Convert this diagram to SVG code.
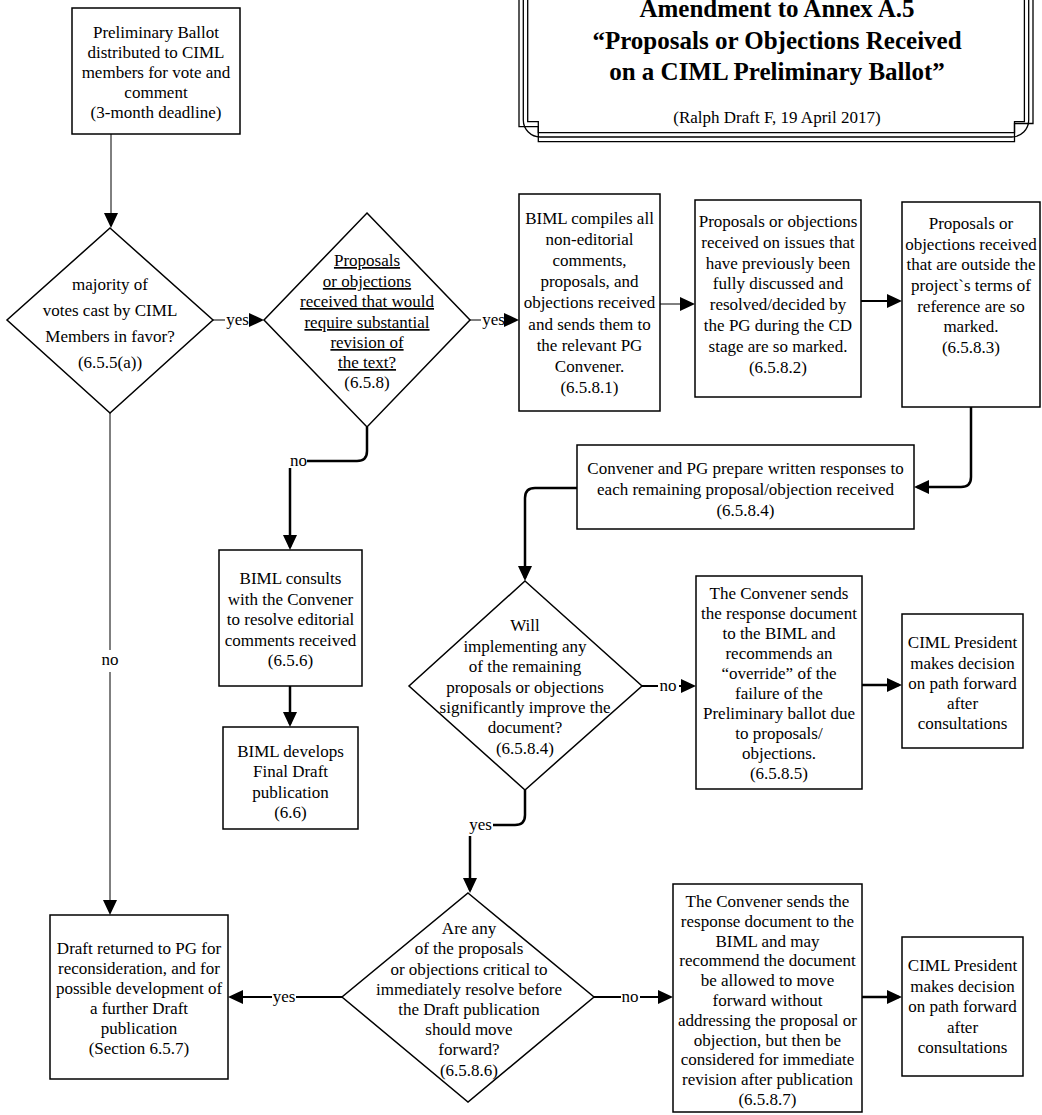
<svg xmlns="http://www.w3.org/2000/svg" width="1042" height="1115" viewBox="0 0 1042 1115">
<defs>
<style>
.box{fill:#fff;stroke:#000;stroke-width:1.5}
.t{font-family:"Liberation Serif","Times New Roman",serif;font-size:17px;text-anchor:middle;fill:#000}
.u{text-decoration:underline}
.title{font-family:"Liberation Serif","Times New Roman",serif;font-size:25px;font-weight:bold;text-anchor:middle;fill:#000}
.frame{fill:none;stroke:#000;stroke-width:1.3}
.thin{fill:none;stroke:#000;stroke-width:1}
.med{fill:none;stroke:#000;stroke-width:2}
.thick{fill:none;stroke:#000;stroke-width:2.5}
</style>
<marker id="ah" markerUnits="userSpaceOnUse" viewBox="0 0 15 14" markerWidth="15" markerHeight="14" refX="12" refY="7" orient="auto">
<path d="M0,0 L15,7 L0,14 z" fill="#000"/>
</marker>
</defs>
<rect width="1042" height="1115" fill="#fff"/>

<g id="title">
<path class="frame" d="M519,-2 V126.7 H538.3 V141.7 H1014.5 V123.5 H1033 V-2"/>
<path class="frame" d="M523.3,-2 V120 A17,17 0 0 0 540.3,137 H1011.7 A17,17 0 0 0 1028.7,120 V-2"/>
<path class="frame" d="M527.7,-2 V121.7 H538.3 V132.7 H1014.5 V121.7 H1024.4 V-2"/>
<text class="title" x="777" y="17">Amendment to Annex A.5</text>
<text class="title" x="777" y="48.5">“Proposals or Objections Received</text>
<text class="title" x="777" y="80">on a CIML Preliminary Ballot”</text>
<text class="t" x="777" y="123">(Ralph Draft F, 19 April 2017)</text>
</g>

<g id="connectors">
<path class="thin" d="M111,134 V225" marker-end="url(#ah)"/>
<path class="thin" d="M213,320 H225"/>
<text class="t" x="237.5" y="325">yes</text>
<path class="thin" d="M249,320 H261" marker-end="url(#ah)"/>
<path class="thin" d="M470,320 H481"/>
<text class="t" x="493.5" y="325">yes</text>
<path class="thin" d="M505,320 H516" marker-end="url(#ah)"/>
<path class="thick" d="M367,427 V451 Q367,461 357,461 H307"/>
<text class="t" x="298.5" y="466">no</text>
<path class="thick" d="M290,468 V547" marker-end="url(#ah)"/>
<path class="thick" d="M290,686 V724" marker-end="url(#ah)"/>
<path class="thin" d="M110,413 V650"/>
<text class="t" x="110" y="665">no</text>
<path class="thin" d="M110,672 V912" marker-end="url(#ah)"/>
<path class="thin" d="M660,304 H692" marker-end="url(#ah)"/>
<path class="med" d="M861,301 H899" marker-end="url(#ah)"/>
<path class="thick" d="M971,407 V477 Q971,487 961,487 H917" marker-end="url(#ah)"/>
<path class="thick" d="M577,488 H535 Q525,488 525,498 V578" marker-end="url(#ah)"/>
<path class="med" d="M642,686 H658"/>
<text class="t" x="668" y="691">no</text>
<path class="med" d="M679,686 H693" marker-end="url(#ah)"/>
<path class="thick" d="M862,685 H899" marker-end="url(#ah)"/>
<path class="thick" d="M525,790 V815 Q525,825 515,825 H493"/>
<text class="t" x="480.5" y="830">yes</text>
<path class="thick" d="M470,836 V890" marker-end="url(#ah)"/>
<path class="med" d="M342,997 H296"/>
<text class="t" x="284" y="1002">yes</text>
<path class="med" d="M272,997 H231" marker-end="url(#ah)"/>
<path class="med" d="M594,997 H621"/>
<text class="t" x="630" y="1002">no</text>
<path class="med" d="M640,997 H670" marker-end="url(#ah)"/>
<path class="thick" d="M862,997 H899" marker-end="url(#ah)"/>
</g>

<g id="n-ballot">
<rect class="box" x="72" y="8" width="168" height="126"/>
<text class="t"><tspan x="156" y="37.5">Preliminary Ballot</tspan><tspan x="156" y="57.5">distributed to CIML</tspan><tspan x="156" y="77.5">members for vote and</tspan><tspan x="156" y="97.5">comment</tspan><tspan x="156" y="117.5">(3-month deadline)</tspan></text>
</g>

<g id="d-majority">
<polygon class="box" points="110,228 213,320 110,413 7,320"/>
<text class="t"><tspan x="110" y="290">majority of</tspan><tspan x="110" y="316">votes cast by CIML</tspan><tspan x="110" y="342">Members in favor?</tspan><tspan x="110" y="368">(6.5.5(a))</tspan></text>
</g>

<g id="d-substantial">
<polygon class="box" points="367,213 470,320 367,427 264,320"/>
<text class="t"><tspan class="u" x="367" y="266">Proposals</tspan><tspan class="u" x="367" y="287">or objections</tspan><tspan class="u" x="367" y="307">received that would</tspan><tspan class="u" x="367" y="328">require substantial</tspan><tspan class="u" x="367" y="348">revision of</tspan><tspan class="u" x="367" y="368">the text?</tspan><tspan x="367" y="388">(6.5.8)</tspan></text>
</g>

<g id="n-compiles">
<rect class="box" x="519" y="194" width="141" height="217"/>
<text class="t"><tspan x="589.5" y="224">BIML compiles all</tspan><tspan x="589.5" y="245">non-editorial</tspan><tspan x="589.5" y="266">comments,</tspan><tspan x="589.5" y="287">proposals, and</tspan><tspan x="589.5" y="308">objections received</tspan><tspan x="589.5" y="330">and sends them to</tspan><tspan x="589.5" y="351">the relevant PG</tspan><tspan x="589.5" y="372">Convener.</tspan><tspan x="589.5" y="393">(6.5.8.1)</tspan></text>
</g>

<g id="n-6582">
<rect class="box" x="695" y="200" width="166" height="197"/>
<text class="t"><tspan x="778" y="227">Proposals or objections</tspan><tspan x="778" y="248">received on issues that</tspan><tspan x="778" y="269">have previously been</tspan><tspan x="778" y="289">fully discussed and</tspan><tspan x="778" y="310">resolved/decided by</tspan><tspan x="778" y="331">the PG during the CD</tspan><tspan x="778" y="352">stage are so marked.</tspan><tspan x="778" y="373">(6.5.8.2)</tspan></text>
</g>

<g id="n-6583">
<rect class="box" x="902" y="202" width="138" height="205"/>
<text class="t"><tspan x="971" y="229">Proposals or</tspan><tspan x="971" y="250">objections received</tspan><tspan x="971" y="270">that are outside the</tspan><tspan x="971" y="291">project`s terms of</tspan><tspan x="971" y="312">reference  are so</tspan><tspan x="971" y="332">marked.</tspan><tspan x="971" y="353">(6.5.8.3)</tspan></text>
</g>

<g id="n-6584">
<rect class="box" x="577" y="445" width="337" height="84"/>
<text class="t"><tspan x="745.5" y="474">Convener and PG prepare written responses to</tspan><tspan x="745.5" y="495">each remaining proposal/objection received</tspan><tspan x="745.5" y="516">(6.5.8.4)</tspan></text>
</g>

<g id="n-consults">
<rect class="box" x="219" y="550" width="143" height="136"/>
<text class="t"><tspan x="290.5" y="584">BIML consults</tspan><tspan x="290.5" y="605">with the Convener</tspan><tspan x="290.5" y="625">to resolve editorial</tspan><tspan x="290.5" y="646">comments received</tspan><tspan x="290.5" y="666">(6.5.6)</tspan></text>
</g>

<g id="n-develops">
<rect class="box" x="223" y="727" width="135" height="102"/>
<text class="t"><tspan x="290.5" y="757">BIML develops</tspan><tspan x="290.5" y="777">Final Draft</tspan><tspan x="290.5" y="798">publication</tspan><tspan x="290.5" y="818">(6.6)</tspan></text>
</g>

<g id="d-improve">
<polygon class="box" points="525,581 642,686 525,790 409,686"/>
<text class="t"><tspan x="525" y="631">Will</tspan><tspan x="525" y="652">implementing any</tspan><tspan x="525" y="672">of the remaining</tspan><tspan x="525" y="693">proposals or objections</tspan><tspan x="525" y="713">significantly improve the</tspan><tspan x="525" y="733">document?</tspan><tspan x="525" y="754">(6.5.8.4)</tspan></text>
</g>

<g id="n-6585">
<rect class="box" x="696" y="576" width="166" height="213"/>
<text class="t"><tspan x="779" y="599">The Convener sends</tspan><tspan x="779" y="619">the response document</tspan><tspan x="779" y="639">to the BIML and</tspan><tspan x="779" y="659">recommends an</tspan><tspan x="779" y="679">“override” of the</tspan><tspan x="779" y="699">failure of the</tspan><tspan x="779" y="719">Preliminary ballot due</tspan><tspan x="779" y="739">to proposals/</tspan><tspan x="779" y="759">objections.</tspan><tspan x="779" y="779">(6.5.8.5)</tspan></text>
</g>

<g id="n-president1">
<rect class="box" x="902" y="614" width="121" height="134"/>
<text class="t"><tspan x="962.5" y="648">CIML President</tspan><tspan x="962.5" y="669">makes decision</tspan><tspan x="962.5" y="689">on path forward</tspan><tspan x="962.5" y="709">after</tspan><tspan x="962.5" y="729">consultations</tspan></text>
</g>

<g id="n-draft-returned">
<rect class="box" x="50" y="915" width="178" height="164"/>
<text class="t"><tspan x="139" y="954">Draft returned to PG for</tspan><tspan x="139" y="974">reconsideration, and for</tspan><tspan x="139" y="994">possible development of</tspan><tspan x="139" y="1014">a further Draft</tspan><tspan x="139" y="1034">publication</tspan><tspan x="139" y="1054">(Section 6.5.7)</tspan></text>
</g>

<g id="d-critical">
<polygon class="box" points="468,893 594,997 468,1102 342,997"/>
<text class="t"><tspan x="469" y="934">Are any</tspan><tspan x="469" y="954">of the proposals</tspan><tspan x="469" y="975">or objections critical to</tspan><tspan x="469" y="995">immediately resolve before</tspan><tspan x="469" y="1015">the Draft publication</tspan><tspan x="469" y="1035">should move</tspan><tspan x="469" y="1055">forward?</tspan><tspan x="469" y="1076">(6.5.8.6)</tspan></text>
</g>

<g id="n-6587">
<rect class="box" x="673" y="884" width="189" height="228"/>
<text class="t"><tspan x="767.5" y="907">The Convener sends the</tspan><tspan x="767.5" y="927">response document to the</tspan><tspan x="767.5" y="947">BIML and may</tspan><tspan x="767.5" y="966">recommend the document</tspan><tspan x="767.5" y="986">be allowed to move</tspan><tspan x="767.5" y="1006">forward without</tspan><tspan x="767.5" y="1026">addressing the proposal or</tspan><tspan x="767.5" y="1046">objection, but then be</tspan><tspan x="767.5" y="1065">considered for immediate</tspan><tspan x="767.5" y="1085">revision after publication</tspan><tspan x="767.5" y="1105">(6.5.8.7)</tspan></text>
</g>

<g id="n-president2">
<rect class="box" x="902" y="937" width="121" height="139"/>
<text class="t"><tspan x="962.5" y="971">CIML President</tspan><tspan x="962.5" y="991.5">makes decision</tspan><tspan x="962.5" y="1012">on path forward</tspan><tspan x="962.5" y="1032.5">after</tspan><tspan x="962.5" y="1053">consultations</tspan></text>
</g>
</svg>
